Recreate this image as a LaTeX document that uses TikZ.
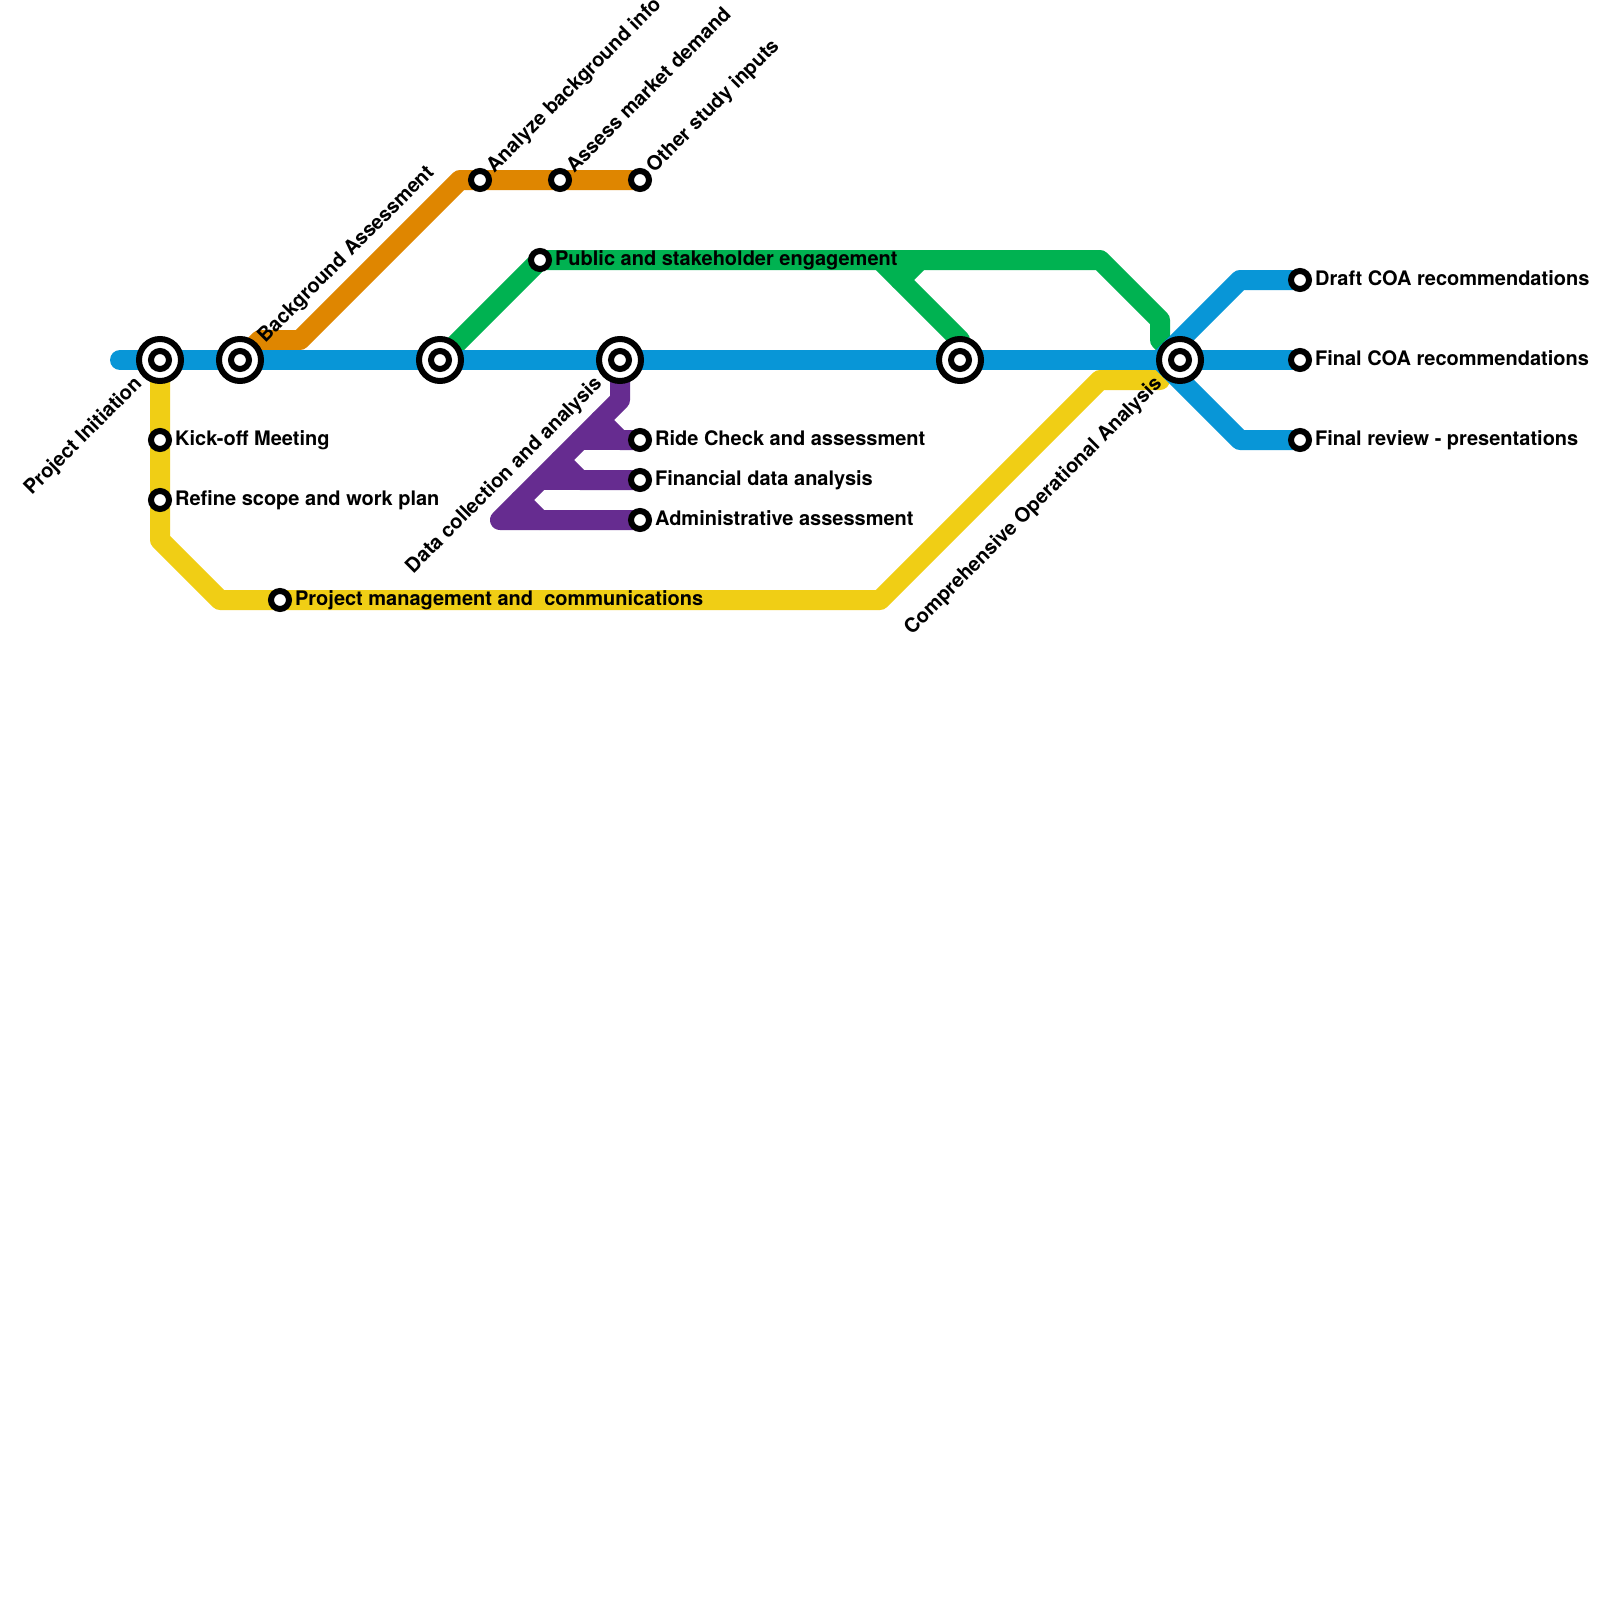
\documentclass[tikz,border=0pt]{standalone}
\usepackage{fontspec}
\setmainfont{TeX Gyre Heros}
\pgfdeclarelayer{lines}
\pgfsetlayers{lines,main}
\definecolor{lblue}{HTML}{0896D7}
\definecolor{lyellow}{HTML}{F0CE15}
\definecolor{lgreen}{HTML}{00B251}
\definecolor{lorange}{HTML}{DF8600}
\definecolor{lpurple}{HTML}{662C90}
\tikzset{
  x=0.5pt,y=-0.5pt,
  metro/.style={line width=10pt,line join=round,line cap=round},
  stop/.style={circle,draw=black,fill=white,line width=3pt,minimum size=9pt,inner sep=0pt},
  hub/.style={circle,draw=black,fill=white,line width=3pt,minimum size=21pt,inner sep=0pt},
  lab/.style={inner sep=0pt,font=\fontsize{10pt}{12pt}\selectfont\bfseries,text=black},
  east/.style={lab,anchor=base west},
  up/.style={lab,anchor=base west,rotate=45},
  down/.style={lab,anchor=base east,rotate=45},
}
\begin{document}
\begin{tikzpicture}
\useasboundingbox (0,0) rectangle (1600,1600);
% hubs
\node[hub] (h1) at (160,360) {};
\node[hub] (h2) at (240,360) {};
\node[hub] (h3) at (440,360) {};
\node[hub] (h4) at (620,360) {};
\node[hub] (h5) at (960,360) {};
\node[hub] (h6) at (1180,360) {};
\foreach \n/\x in {i1/160,i2/240,i3/440,i4/620,i5/960,i6/1180}
  \node[stop] (\n) at (\x,360) {};
% stops
\node[stop] (kick) at (160,440) {};
\node[stop] (refine) at (160,500) {};
\node[stop] (pm) at (280,600) {};
\node[stop] (bg) at (480,180) {};
\node[stop] (mkt) at (560,180) {};
\node[stop] (oth) at (640,180) {};
\node[stop] (pub) at (540,260) {};
\node[stop] (ride) at (640,440) {};
\node[stop] (fin) at (640,480) {};
\node[stop] (adm) at (640,520) {};
\node[stop] (draft) at (1300,280) {};
\node[stop] (final) at (1300,360) {};
\node[stop] (rev) at (1300,440) {};
% bend points
\coordinate (bs) at (120,360);
\coordinate (bu) at (1240,280);
\coordinate (bd) at (1240,440);
\coordinate (bj) at (1160,360);
\coordinate (y1) at (160,540);
\coordinate (y2) at (220,600);
\coordinate (y3) at (880,600);
\coordinate (y4) at (1100,380);
\coordinate (y5) at (1160,380);
\coordinate (g1) at (1100,260);
\coordinate (g2) at (1160,320);
\coordinate (g3) at (1160,340);
\coordinate (g4) at (880,260);
\coordinate (g5) at (960,340);
\coordinate (g6) at (920,260);
\coordinate (g7) at (900,280);
\coordinate (o1) at (260,340);
\coordinate (o2) at (300,340);
\coordinate (o3) at (460,180);
\coordinate (p1) at (620,400);
\coordinate (p2) at (500,520);
\coordinate (p3) at (600,420);
\coordinate (p4) at (620,440);
\coordinate (p5) at (560,460);
\coordinate (p6) at (580,480);
\coordinate (p7) at (520,500);
\coordinate (p8) at (540,520);
\coordinate (p9) at (580,440);
\coordinate (p10) at (540,480);
\begin{pgfonlayer}{lines}
\fill[white] (0,0) rectangle (1600,1600);
\draw[metro,lyellow] (h1.center) -- (kick.center) -- (refine.center) -- (y1) -- (y2) -- (pm.center) -- (y3) -- (y4) -- (y5);
\draw[metro,lgreen] (h3.center) -- (pub.center) -- (g1) -- (g2) -- (g3) -- (h6.center);
\draw[metro,lgreen] (g4) -- (g5) -- (h5.center);
\draw[metro,lgreen] (g6) -- (g7);
\draw[metro,lorange] (h2.center) -- (o1) -- (o2) -- (o3) -- (bg.center) -- (mkt.center) -- (oth.center);
\draw[metro,lpurple] (h4.center) -- (p1) -- (p2) -- (adm.center);
\draw[metro,lpurple] (p3) -- (p4) -- (ride.center);
\draw[metro,lpurple] (p9) -- (ride.center);
\draw[metro,lpurple] (p5) -- (p6) -- (fin.center);
\draw[metro,lpurple] (p10) -- (fin.center);
\draw[metro,lpurple] (p7) -- (p8);
\draw[metro,lblue] (bs) -- (final.center);
\draw[metro,lblue] (draft.center) -- (bu) -- (bj) -- (bd) -- (rev.center);
\end{pgfonlayer}
% labels
\node[east] (lkick) at (174.7,445) {Kick-off Meeting};
\node[east] (lrefine) at (174.7,505) {Refine scope and work plan};
\node[east] (lpm) at (294.7,605) {Project management and~~communications};
\node[east] (lpub) at (554.7,265) {Public and stakeholder engagement};
\node[east] (lride) at (654.7,445) {Ride Check and assessment};
\node[east] (lfin) at (654.7,485) {Financial data analysis};
\node[east] (ladm) at (654.7,525) {Administrative assessment};
\node[east] (ldraft) at (1314.7,285) {Draft COA recommendations};
\node[east] (lfinal) at (1314.7,365) {Final COA recommendations};
\node[east] (lrev) at (1314.7,445) {Final review - presentations};
\node[up] (lbgm) at (265,343.5) {Background Assessment};
\node[up] (lana) at (494,173.5) {Analyze background info};
\node[up] (lmkt) at (574,173.5) {Assess market demand};
\node[up] (loth) at (654,173.5) {Other study inputs};
\node[down] (lproj) at (143,384.5) {Project Initiation};
\node[down] (ldata) at (603,384.5) {Data collection and analysis};
\node[down] (lcomp) at (1163,384.5) {Comprehensive Operational Analysis};
\end{tikzpicture}
\end{document}
